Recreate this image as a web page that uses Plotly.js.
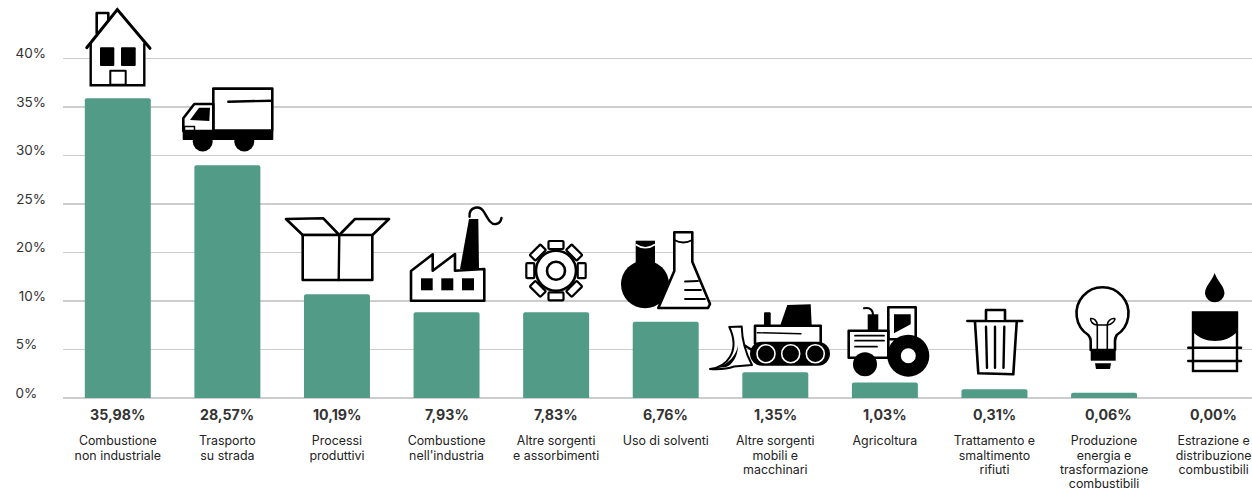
<!DOCTYPE html>
<html><head><meta charset="utf-8">
<script src="https://cdn.plot.ly/plotly-3.0.1.min.js"></script>
<style>html,body{margin:0;padding:0;background:#fff;overflow:hidden}#c{width:1252px;height:489px}</style>
</head><body><div id="c"></div>
<script>
const categories = [
  "Combustione<br>non industriale","Trasporto<br>su strada","Processi<br>produttivi",
  "Combustione<br>nell'industria","Altre sorgenti<br>e assorbimenti","Uso di solventi",
  "Altre sorgenti<br>mobili e<br>macchinari","Agricoltura","Trattamento e<br>smaltimento<br>rifiuti",
  "Produzione<br>energia e<br>trasformazione<br>combustibili","Estrazione e<br>distribuzione<br>combustibili"];
const shareLabels = ["35,98%","28,57%","10,19%","7,93%","7,83%","6,76%","1,35%","1,03%","0,31%","0,06%","0,00%"];
// bar heights as drawn, read against the evenly spaced gridlines (the source axis skips 15%)
const barHeights = [30.9,24.0,10.7,8.85,8.85,7.85,2.65,1.6,0.9,0.55,0];
const gridSteps = [0,5,10,15,20,25,30,35];
const yTickLabels = ["0%","5%","10%","20%","25%","30%","35%","40%"];

const W=1252,PL=63,PB=398;
const S=(w=2.6)=>`fill="#fff" stroke="#000" stroke-width="${w}" stroke-linejoin="round" stroke-linecap="round"`;
const K='fill="#000"';
const L=(w=2.4)=>`fill="none" stroke="#000" stroke-width="${w}" stroke-linecap="round"`;
function gear(){
  let s='';
  for(let a=0;a<360;a+=45){
    s+=`<rect x="548.5" y="241" width="15" height="8" rx="1" transform="rotate(${a} 556 270.7)" ${S(2.2)}/>`;
  }
  return s+`<circle cx="556" cy="270.7" r="20" ${S(2.6)}/><circle cx="556" cy="270.7" r="9" ${L(2.6)}/>`;
}
const icons = [
 [[82,5,72,84],`<path d="M96.7 33V13H108.3V21" ${S()}/><path d="M90.7 44V85.3H144.3V44L117.3 12Z" fill="#fff"/><path d="M90.7 44V85.3H144.3V44" ${L()}/><path d="M86.7 47.7L117.3 9.5L150 48.3" ${L(3)}/><rect x="100" y="47.3" width="14.3" height="18.7" rx="1" ${K}/><rect x="121" y="47.3" width="14.7" height="18.7" rx="1" ${K}/><rect x="110.3" y="70.7" width="15.4" height="14" ${S(2)}/>`],
 [[178,84,100,72],`<rect x="213.3" y="88.6" width="59" height="42" ${S()}/><path d="M228.3 101.7L271.7 100.7" ${L()}/><path d="M213.3 104H194.3L183.3 118.3V131H213.3Z" ${S()}/><path d="M199 107.7H210L209.3 121L190 120Z" ${K}/><rect x="184.5" y="126.5" width="10" height="4" ${S(1.5)}/><rect x="182.7" y="130.5" width="90.6" height="9.5" rx="1" ${K}/><circle cx="202.7" cy="141.5" r="10" ${K}/><circle cx="244.3" cy="141.5" r="10" ${K}/>`],
 [[282,214,112,70],`<path d="M286 219L323.3 218.3L339.3 235H302.7Z" ${S()}/><path d="M355 219H389L371.7 235.7L339.3 235Z" ${S()}/><path d="M302.7 235H372.3V280H302.7Z" ${S()}/><path d="M339.3 235L338.7 280" ${L()}/>`],
 [[406,204,100,100],`<path d="M411 271L432.7 254.3V270.7L455 254V270.7L484.3 269V300.7H411Z" ${S()}/><path d="M469 219H478.3L479 269H460Z" ${K}/><rect x="421" y="278.3" width="11.7" height="12" ${K}/><rect x="441.3" y="278.3" width="12" height="12" ${K}/><rect x="462" y="278.3" width="12" height="12" ${K}/><path d="M469.5 216.7C469 206 480 205 484 212C488 219 491 225 496 224C499 223.5 501 221 501.5 218" ${L()}/>`],
 [[522,236,68,70],gear()],
 [[616,228,100,84],`<circle cx="645" cy="284.3" r="24" ${K}/><rect x="635.7" y="240.7" width="19.3" height="26" ${K}/><path d="M635.7 244.5Q645.3 251 655 244.5" fill="none" stroke="#fff" stroke-width="1.6"/><path d="M674.3 232.3H692.3V261.7L710 304L708 308H658.3L674.3 271Z" ${S()}/><path d="M674.3 240Q683.3 245 692.3 240" ${L(1.8)}/><path d="M685 281.5L698 281M685 290H701M685 299H705" ${L(1.8)}/>`],
 [[706,300,128,74],`<path d="M787.3 305L810.7 304.3L811.7 326H780Z" ${K}/><rect x="764" y="312.3" width="6.7" height="14" rx="1" ${K}/><rect x="755" y="325.7" width="65.7" height="18" ${S()}/><path d="M757.3 332.7L801 333.7" ${L(1.4)}/><path d="M744 345L752 350" ${L()}/><path d="M710 369C726 367.5 741 352 729.3 327L741.7 326.5C742 340 745 352 752 365L734 366.5C726 369.5 718 369.5 710 369Z" ${S(2)}/><path d="M712 368.5C724 367.5 736 358 738 345C738 357 732 365 726 367Z" ${K}/><rect x="750" y="341.7" width="80" height="24" rx="12" ${K}/><circle cx="766" cy="353.7" r="9" fill="#000" stroke="#fff" stroke-width="1.6"/><circle cx="790.7" cy="353.7" r="9" fill="#000" stroke="#fff" stroke-width="1.6"/><circle cx="815.3" cy="353.7" r="9" fill="#000" stroke="#fff" stroke-width="1.6"/>`],
 [[844,302,90,80],`<rect x="888.3" y="307.3" width="27.4" height="32" ${S()}/><path d="M894 314.3H910.7V324.3L894 333.3Z" ${K}/><rect x="867.7" y="314.3" width="10.6" height="17" ${K}/><path d="M864 308.3Q873 307 873 315" ${L(2)}/><rect x="848.7" y="330.7" width="39.6" height="27" ${S()}/><path d="M855 335.7H884M855 340.7H884M855 346.7H877" ${L(1.8)}/><circle cx="908.3" cy="355.7" r="21" ${K}/><circle cx="908.3" cy="355.7" r="7.5" fill="#fff"/><circle cx="865" cy="364.3" r="12" ${K}/>`],
 [[962,306,66,72],`<path d="M975 322L978.3 373.3L1013.3 374.3L1016.7 322" ${S()}/><path d="M967.3 321H1022.3" ${L()}/><path d="M986 320V310H1005V320" ${S()}/><path d="M986 326.7L987 367.7M995 326.7V367.7M1004.3 326.7L1003.5 367.7" ${L()}/>`],
 [[1072,284,62,90],`<path d="M1090.7 350V341Q1090.7 338 1088.3 335A26 26 0 1 1 1116.7 335Q1115 338 1115 341V350Z" ${S()}/><path d="M1097.3 350V325M1107.3 350V325M1097.3 325H1107.3" ${L(1.6)}/><path d="M1097.3 325C1092 325 1090 320 1090.7 318.5C1094 318 1097.3 321 1097.3 325M1107.3 325C1112 325 1115.5 320 1114.7 318.5C1111 318 1107.3 321 1107.3 325" ${L(1.6)}/><rect x="1090.7" y="350" width="25" height="10.7" ${K}/><path d="M1095 363.3H1111L1110 369H1096Z" ${K}/>`],
 [[1184,270,62,106],`<path d="M1214.7 273C1217 281 1224.5 286 1224.5 293.5A9.8 9.8 0 0 1 1205 293.5C1205 286 1212 281 1214.7 273Z" ${K}/><rect x="1193" y="312.5" width="44" height="58.5" fill="#fff" stroke="#000" stroke-width="2.4"/><path d="M1192.3 311.7H1237.7V331C1232 338 1223 341 1215 341C1207 341 1198 338 1192.3 331Z" ${K}/><path d="M1188.3 347.7H1241M1188.3 361H1241" ${L(2.6)}/>`]
];
const H=PB;
const images = icons.map(([b,c])=>{
  const [x,y,w,h]=b;
  const svg=`<svg xmlns="http://www.w3.org/2000/svg" width="${w*3}" height="${h*3}" viewBox="${x} ${y} ${w} ${h}">${c}</svg>`;
  return {source:'data:image/svg+xml;base64,'+btoa(svg),xref:'paper',yref:'paper',
    x:(x-PL)/(W-PL),y:(H-y)/H,sizex:w/(W-PL),sizey:h/H,sizing:'stretch',xanchor:'left',yanchor:'top',layer:'above'};
});
const idx = categories.map((_,i)=>i);
const FONT='Inter, "Liberation Sans", sans-serif';
Plotly.newPlot('c',[{
  type:'bar',x:idx,y:barHeights,width:0.602,marker:{color:'#529B86',line:{width:0}},hoverinfo:'skip'
}],{
  width:W,height:489,margin:{l:PL,r:0,t:0,b:489-PB,pad:0},
  paper_bgcolor:'#fff',plot_bgcolor:'#fff',showlegend:false,barcornerradius:2,
  font:{family:FONT,color:'#333'},
  xaxis:{range:[-0.5,10.35],tickmode:'array',tickvals:idx,ticktext:categories,tickangle:0,
    tickfont:{family:FONT,size:12.4,color:'#222'},ticks:'',showgrid:false,zeroline:false,showline:false,ticklabelstandoff:34,automargin:false},
  yaxis:{range:[0,398/9.7],tickmode:'array',tickvals:gridSteps,ticktext:yTickLabels.map(t=>t.padEnd(3,'\u2007')),
    tickfont:{family:FONT,size:13.5,color:'#333'},ticks:'',showgrid:true,gridcolor:'#cdcdcd',gridwidth:1.6,
    zeroline:true,zerolinecolor:'#cdcdcd',zerolinewidth:2,showline:false,ticklabelshift:-5,ticklabelstandoff:16,automargin:false},
  annotations:shareLabels.map((t,i)=>({text:'<b>'+t+'</b>',x:i,y:0,xref:'x',yref:'y',xanchor:'center',yanchor:'top',
    yshift:-6,xshift:i===9?4:0,showarrow:false,font:{family:FONT,size:14.2,color:'#333'}})),
  images
},{displayModeBar:false,staticPlot:true}).then(()=>{
  // the reference sets its category labels tighter than Plotly's default line spacing
  document.querySelectorAll('.xtick tspan.line').forEach(t=>{
    const dy=parseFloat(t.getAttribute('dy'));
    if(dy) t.setAttribute('dy',(dy/1.3*1.155).toFixed(3)+'em');
  });
});
</script></body></html>
